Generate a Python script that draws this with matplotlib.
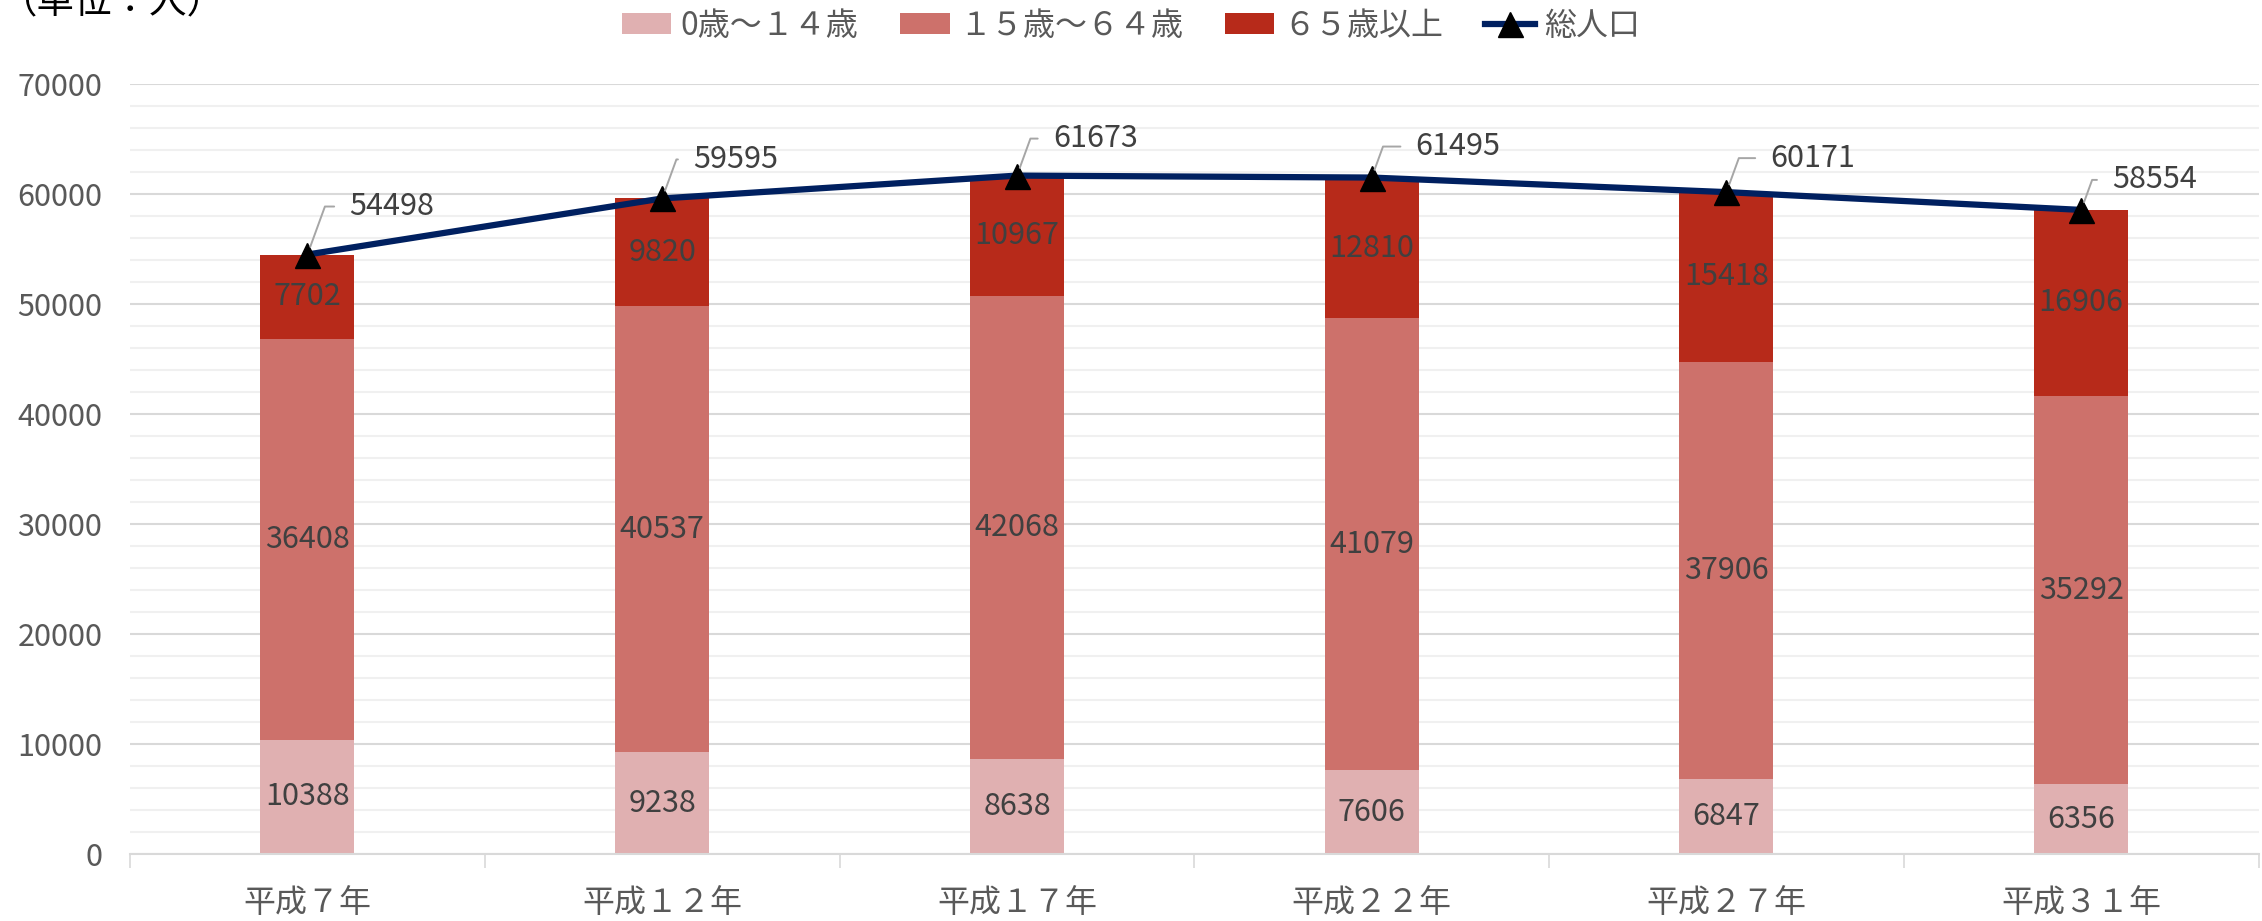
import numpy as np
import matplotlib
matplotlib.use('Agg')
import matplotlib.pyplot as plt

plt.rcParams['font.family'] = ['Noto Sans CJK JP', 'DejaVu Sans']

# Data (unit: persons)
years = ['平成７年', '平成１２年', '平成１７年', '平成２２年', '平成２７年', '平成３１年']
age_0_14 = [10388, 9238, 8638, 7606, 6847, 6356]
age_15_64 = [36408, 40537, 42068, 41079, 37906, 35292]
age_65_over = [7702, 9820, 10967, 12810, 15418, 16906]
total = [54498, 59595, 61673, 61495, 60171, 58554]

series_names = ['0歳～１４歳', '１５歳～６４歳', '６５歳以上', '総人口']
colors = ['#e0b0b1', '#cd716b', '#b72a1a']
line_color = '#002060'
label_color = '#404040'
tick_color = '#595959'

# label offsets (pixels) for the total labels, as placed in the original
label_offsets = [(42, 48), (31, 39), (36, 37), (44, 31), (44, 34), (31, 30)]

fig = plt.figure(figsize=(22.62, 9.21), dpi=100)
ax = fig.add_axes([0.0575, 0.0727, 0.941, 0.8361])

x = np.arange(len(years))
w = 0.265

b1 = ax.bar(x, age_0_14, w, color=colors[0], label=series_names[0], zorder=2)
b2 = ax.bar(x, age_15_64, w, bottom=age_0_14, color=colors[1],
            label=series_names[1], zorder=2)
bottom3 = np.array(age_0_14) + np.array(age_15_64)
b3 = ax.bar(x, age_65_over, w, bottom=bottom3, color=colors[2],
            label=series_names[2], zorder=2)

for bars in (b1, b2, b3):
    ax.bar_label(bars, label_type='center', fontsize=22, color=label_color)

ax.plot(x, total, color=line_color, lw=4.5, marker='^', markersize=18,
        markerfacecolor='black', markeredgecolor='black',
        label=series_names[3], zorder=4)

# total labels with leader lines
for xi, v, (dx, dy) in zip(x, total, label_offsets):
    ax.annotate(str(v), xy=(xi, v), xytext=(dx, dy), textcoords='offset pixels',
                ha='left', va='center', fontsize=22, color=label_color,
                arrowprops=dict(arrowstyle='-', color='#a6a6a6', lw=1.4,
                                connectionstyle='angle,angleA=180,angleB=70,rad=0',
                                shrinkA=9, shrinkB=6),
                zorder=5)

ax.set_xlim(-0.5, len(years) - 0.5)
ax.set_ylim(0, 70000)
ax.set_yticks(np.arange(0, 70001, 10000))
ax.set_yticks(np.arange(0, 70001, 2000), minor=True)
ax.grid(axis='y', which='major', color='#d9d9d9', lw=1.5, zorder=0)
ax.grid(axis='y', which='minor', color='#f0f0f0', lw=1.5, zorder=0)
ax.set_axisbelow(True)

ax.set_xticks(x)
ax.set_xticklabels(years)
ax.set_xticks(np.arange(-0.5, len(years)), minor=True)
ax.tick_params(axis='x', which='major', length=0, pad=24, labelsize=23,
               labelcolor=tick_color)
ax.tick_params(axis='x', which='minor', length=10, width=1.2, color='#d9d9d9')
ax.tick_params(axis='y', which='both', length=0, pad=20, labelsize=22,
               labelcolor=tick_color)

for s in ('top', 'right', 'left'):
    ax.spines[s].set_visible(False)
ax.spines['bottom'].set_color('#d9d9d9')
ax.spines['bottom'].set_linewidth(1.5)

handles, labels = ax.get_legend_handles_labels()
order = [1, 2, 3, 0]
fig.legend([handles[i] for i in order], [labels[i] for i in order],
           loc='center', bbox_to_anchor=(0.5, 1 - 26 / 921), ncol=4,
           frameon=False, fontsize=23, labelcolor=tick_color,
           handlelength=1.55, handleheight=0.65, columnspacing=1.3,
           handletextpad=0.3)

fig.text(0.0, 1 - 2 / 921, '（単位：人）', ha='left', va='center',
         fontsize=27, color='black')

fig.savefig('out.png', dpi=100)
